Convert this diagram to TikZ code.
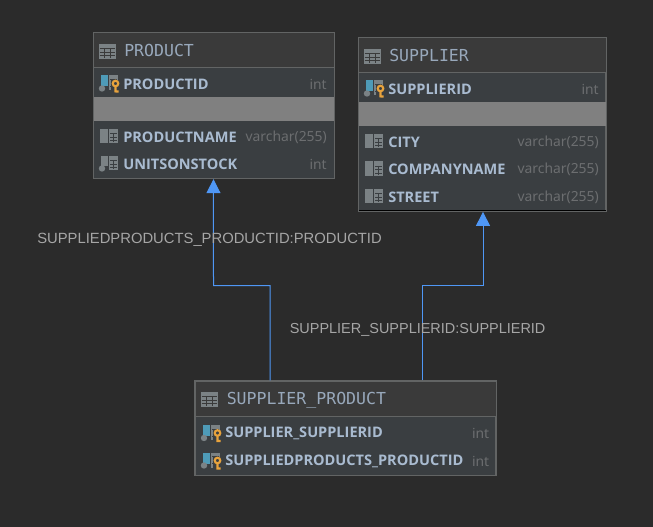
\documentclass[tikz,border=0pt]{standalone}
\usepackage{fontspec}
\setmainfont{Open Sans}
\newfontfamily\titlefont{DejaVu Sans Mono}
\newfontfamily\linkfont{Liberation Sans}
\newfontfamily\typefont{Noto Sans}
\usetikzlibrary{arrows.meta}
\definecolor{canvas}{HTML}{2B2B2B}
\definecolor{headbg}{HTML}{3A3A3A}
\definecolor{rowbg}{HTML}{3A3E41}
\definecolor{frameline}{HTML}{626464}
\definecolor{band}{HTML}{808080}
\definecolor{nametext}{HTML}{A9BBD0}
\definecolor{typetext}{HTML}{6C6E70}
\definecolor{icongray}{HTML}{7B8285}
\definecolor{iconblue}{HTML}{4E9BB8}
\definecolor{icongold}{HTML}{E8A33D}
\definecolor{linkblue}{HTML}{4F97F5}
\tikzset{
    dbframe/.style={draw=frameline,fill=rowbg,line width=0.9pt,inner sep=0pt},
    dbtitle/.style={anchor=west,inner sep=0pt,text=nametext!90!black,font=\titlefont\fontsize{12.4}{14}\selectfont},
    colname/.style={anchor=west,inner sep=0pt,text=nametext,font=\fontsize{10.9}{13}\selectfont\bfseries},
    coltype/.style={anchor=east,inner sep=0pt,text=typetext,font=\typefont\fontsize{10.4}{13}\selectfont},
    linklabel/.style={anchor=west,inner sep=0pt,text=gray!70!white,font=\linkfont\fontsize{11.1}{13}\selectfont},
    link/.style={draw=linkblue,line width=0.75pt,-{Triangle[length=10.5pt,width=10.5pt,fill=linkblue]}}
}
% small icons, #1 = left edge, #2 = middle of the row
\newcommand{\gridicon}[2]{
    \fill[icongray] (#1+10,#2-7.5) rectangle (#1+19,#2+7);
    \draw[rowbg,line width=0.45pt] (#1+11,#2-3)--(#1+18,#2-3) (#1+11,#2+0.5)--(#1+18,#2+0.5) (#1+11,#2+4)--(#1+18,#2+4) (#1+14,#2-3)--(#1+14,#2+6);
}
\newcommand{\tableicon}[2]{
    \fill[icongray] (#1,#2-8) rectangle (#1+17.5,#2+7);
    \draw[headbg,line width=0.5pt] (#1+1,#2-3.5)--(#1+16.5,#2-3.5) (#1+1,#2)--(#1+16.5,#2) (#1+1,#2+3.5)--(#1+16.5,#2+3.5)
        (#1+6,#2-3.5)--(#1+6,#2+6) (#1+11.5,#2-3.5)--(#1+11.5,#2+6);
}
\newcommand{\plainicon}[2]{
    \fill[icongray] (#1+0.5,#2-7.5) rectangle (#1+8.5,#2+7);
    \gridicon{#1}{#2}
}
\newcommand{\nullicon}[2]{
    \fill[icongray] (#1+2,#2-7.5) rectangle (#1+8.5,#2+3);
    \fill[icongray] (#1+3,#2+5) circle (3.2);
    \gridicon{#1}{#2}
}
\newcommand{\keyicon}[2]{
    \fill[iconblue] (#1+2,#2-8) rectangle (#1+8.5,#2+3);
    \fill[icongray] (#1+3,#2+5) circle (3.2);
    \fill[icongray] (#1+10,#2-8) rectangle (#1+19,#2+7);
    \draw[rowbg,line width=0.45pt] (#1+11,#2-4)--(#1+18,#2-4) (#1+11,#2+3)--(#1+14,#2+3);
    \fill[rowbg] (#1+12,#2-3.5) rectangle (#1+20.5,#2+9);
    \draw[icongold,line width=1.6pt] (#1+16.5,#2) circle (2.8) (#1+16.5,#2+3)--(#1+16.5,#2+9) (#1+16.5,#2+8)--(#1+19.5,#2+8);
}
\newcommand{\colrow}[7]{
    #2{#3}{#4}
    \node[colname] (#1name) at (#3+24,#4+0.5) {#6};
    \node[coltype] (#1type) at (#5,#4+0.5) {#7};
}
\begin{document}
\begin{tikzpicture}[x=0.75pt,y=-0.75pt]
    \fill[canvas] (0,0) rectangle (653,527);
    \useasboundingbox (0,0) rectangle (653,527);

    % PRODUCT
    \node[dbframe,minimum width=180.8pt,minimum height=109.6pt] (product) at (214,105.5) {};
    \fill[headbg] (94,33) rectangle (334,67);
    \draw[frameline] (94,67.5)--(334,67.5);
    \fill[band] (94,97) rectangle (334,121.5);
    \tableicon{98.5}{52}
    \node[dbtitle] (producttitle) at (124,50) {PRODUCT};
    \colrow{pid}{\keyicon}{99}{83.5}{327}{PRODUCTID}{int}
    \colrow{pname}{\plainicon}{99}{136.5}{327}{PRODUCTNAME}{varchar(255)}
    \colrow{pstock}{\nullicon}{99}{163.5}{327}{UNITSONSTOCK}{int}

    % SUPPLIER
    \node[dbframe,minimum width=185.8pt,minimum height=130.5pt] (supplier) at (482.2,124.3) {};
    \fill[headbg] (359,38) rectangle (605.5,72);
    \draw[frameline] (359,72.5)--(605.5,72.5);
    \fill[band] (359,102) rectangle (605.5,126.5);
    \draw[black] (359,210.5)--(605.5,210.5);
    \tableicon{363.5}{57}
    \node[dbtitle] (suppliertitle) at (389,55) {SUPPLIER};
    \colrow{sid}{\keyicon}{364}{88.5}{599}{SUPPLIERID}{int}
    \colrow{scity}{\plainicon}{364}{141.5}{599}{CITY}{varchar(255)}
    \colrow{scompany}{\plainicon}{364}{169}{599}{COMPANYNAME}{varchar(255)}
    \colrow{sstreet}{\plainicon}{364}{196.5}{599}{STREET}{varchar(255)}

    % SUPPLIER_PRODUCT
    \node[dbframe,minimum width=225.8pt,minimum height=70.7pt] (supplierproduct) at (345.5,428.2) {};
    \fill[headbg] (195.5,381.5) rectangle (495.5,416);
    \draw[frameline] (195.5,416.5)--(495.5,416.5);
    \tableicon{200.5}{400}
    \node[dbtitle] (sptitle) at (226.5,400) {SUPPLIER\_PRODUCT};
    \colrow{spsupplier}{\keyicon}{201}{433}{489.5}{SUPPLIER\_SUPPLIERID}{int}
    \colrow{spproduct}{\keyicon}{201}{460.5}{489.5}{SUPPLIEDPRODUCTS\_PRODUCTID}{int}

    % links
    \draw[link] ([xshift=-56.6pt]supplierproduct.north) |- (213.5,285.6) -- ([xshift=-0.4pt]product.south);
    \draw[link] ([xshift=57.6pt]supplierproduct.north) |- (483,285.6) -- ([xshift=0.6pt]supplier.south);
    \node[linklabel] (productlink) at (37,240) {SUPPLIEDPRODUCTS\_PRODUCTID:PRODUCTID};
    \node[linklabel,font=\linkfont\fontsize{10.85}{13}\selectfont] (supplierlink) at (289.5,329.5) {SUPPLIER\_SUPPLIERID:SUPPLIERID};
\end{tikzpicture}
\end{document}
